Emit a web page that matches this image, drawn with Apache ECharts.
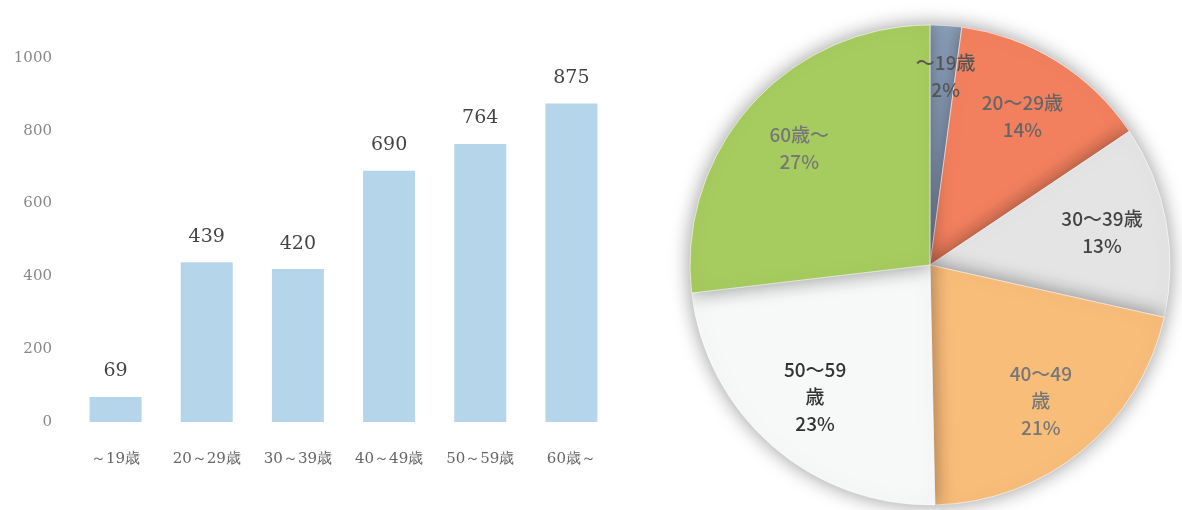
<!DOCTYPE html>
<html>
<head>
<meta charset="utf-8">
<script src="https://cdn.jsdelivr.net/npm/echarts@6/dist/echarts.min.js"></script>
<style>
  html, body { margin: 0; padding: 0; background: #fff; }
  #chart { width: 1182px; height: 510px; }
</style>
</head>
<body>
<div id="chart"></div>
<script>
// 年代別の人数
const categories = ['～19歳', '20～29歳', '30～39歳', '40～49歳', '50～59歳', '60歳～']
const counts = [69, 439, 420, 690, 764, 875]
// 円グラフのラベル（改行入り）
const pieNames = ['～19歳', '20～29歳', '30～39歳', '40～49\n歳', '50～59\n歳', '60歳～']
const yTicks = [0, 200, 400, 600, 800, 1000]

// 扇形の色とラベル色
const pieColors = ['#8ea2bd', '#f2805f', '#e4e4e4', '#f9bd7a', '#f7f9f9', '#a6cb5e']
const pieLabelColors = ['#555', '#666', '#444', '#777', '#333', '#777']

const chart = echarts.init(document.getElementById('chart'))

const pieData = counts.map((v, i) => {
  return {
    name: pieNames[i],
    value: v,
    itemStyle: { color: pieColors[i] }
  }
})
const pieLabelData = counts.map((v, i) => {
  const item = {
    name: pieNames[i],
    value: v,
    label: { color: pieLabelColors[i] }
  }
  // 一番小さい扇形のラベルは少し上へ
  if (i === 0) item.label.offset = [4, -14]
  return item
})

const option = {
  backgroundColor: '#fff',
  animation: false,
  grid: {
    left: 70,
    right: 565,
    top: 58,
    bottom: 88
  },
  xAxis: {
    type: 'category',
    data: categories,
    axisLine: { show: false },
    axisTick: { show: false },
    axisLabel: {
      margin: 30,
      color: '#666',
      fontSize: 15,
      fontFamily: 'DejaVu Serif'
    }
  },
  yAxis: {
    type: 'value',
    min: yTicks[0],
    max: yTicks[yTicks.length - 1],
    interval: 200,
    splitLine: { show: false },
    axisLine: { show: false },
    axisTick: { show: false },
    axisLabel: {
      margin: 18,
      color: '#888',
      fontSize: 15,
      fontFamily: 'DejaVu Serif',
      formatter: (v) => String(v)
    }
  },
  series: [
    {
      type: 'bar',
      data: counts,
      barWidth: 52,
      itemStyle: { color: '#b5d5eb' },
      label: {
        show: true,
        position: 'top',
        distance: 16,
        color: '#444',
        fontSize: 19,
        fontFamily: 'DejaVu Serif'
      }
    },
    {
      // 扇形本体
      type: 'pie',
      center: [930, 265],
      radius: 240,
      startAngle: 90,
      silent: true,
      label: { show: false },
      labelLine: { show: false },
      itemStyle: {
        borderColor: 'rgba(255,255,255,0.6)',
        borderWidth: 1,
        shadowBlur: 20,
        shadowColor: 'rgba(0,0,0,0.4)'
      },
      data: pieData
    },
    {
      // ラベル用の透明な扇形（ラベルを外寄りに置く）
      type: 'pie',
      center: [930, 265],
      radius: [104, 240],
      startAngle: 90,
      silent: true,
      percentPrecision: 0,
      itemStyle: { color: 'rgba(0,0,0,0)' },
      label: {
        show: true,
        position: 'inside',
        formatter: '{b}\n{d}%',
        fontFamily: 'Noto Sans CJK JP',
        fontSize: 19,
        lineHeight: 27,
        fontWeight: 500
      },
      labelLine: { show: false },
      data: pieLabelData
    }
  ]
}
chart.setOption(option)
</script>
</body>
</html>
